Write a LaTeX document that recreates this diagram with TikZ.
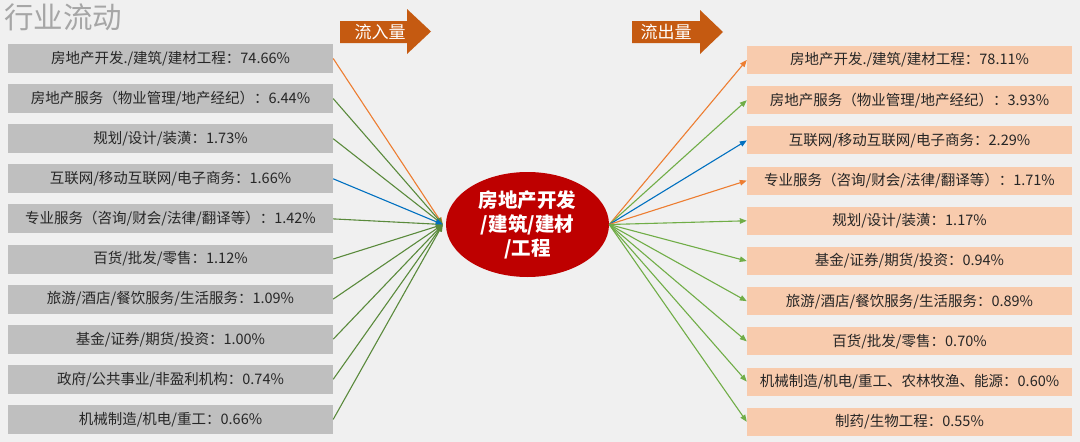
\documentclass[tikz,border=0pt]{standalone}
\usepackage{fontspec}
\setmainfont{Noto Sans CJK SC}
\usetikzlibrary{arrows.meta,shapes.geometric}
\definecolor{bg}{HTML}{F0F0F0}
\definecolor{lbox}{HTML}{BFBFBF}
\definecolor{rbox}{HTML}{F8CBAD}
\definecolor{darkred}{HTML}{BE0000}
\definecolor{arrorange}{HTML}{C55A11}
\definecolor{lorange}{HTML}{ED7D31}
\definecolor{lblue}{HTML}{0070C0}
\definecolor{lgreen}{HTML}{5A8A3C}
\definecolor{rgreen}{HTML}{70AD47}
\definecolor{titlegray}{HTML}{A6A6A6}
\tikzset{
  lboxst/.style={fill=lbox,draw=none,minimum width=325pt,minimum height=29pt,inner sep=0pt,font=\fontsize{14.5}{17}\selectfont,text=black!85},
  rboxst/.style={fill=rbox,draw=none,minimum width=325pt,minimum height=28pt,inner sep=0pt,font=\fontsize{14.5}{17}\selectfont,text=black!85},
  conn/.style={line width=1.1pt,-{Triangle[length=7pt,width=5.5pt]}},
}
\begin{document}
\begin{tikzpicture}[x=1pt,y=-1pt]
\fill[bg] (0,0) rectangle (1080,442);
\useasboundingbox (0,0) rectangle (1080,442);
% title
\node[anchor=west,text=titlegray,font=\fontsize{29.5}{32}\selectfont,inner sep=0pt] (title) at (4,17.5) {行业流动};
% block arrows
\fill[arrorange] (340,21) -- (407,21) -- (407,9) -- (431,31.5) -- (407,54) -- (407,43) -- (340,43) -- cycle;
\node[text=white,font=\fontsize{17}{20}\selectfont,inner sep=0pt] (inlab) at (380,32) {流入量};
\fill[arrorange] (632,21) -- (700,21) -- (700,10) -- (723,32) -- (700,54) -- (700,43) -- (632,43) -- cycle;
\node[text=white,font=\fontsize{17}{20}\selectfont,inner sep=0pt] (outlab) at (666,32) {流出量};
% center
\node[ellipse,fill=darkred,minimum width=163pt,minimum height=105pt,inner sep=0pt,text=white,font=\fontsize{19.5}{24}\selectfont\bfseries,align=center] (C) at (527.5,224.5) {房地产开发\\/建筑/建材\\/工程};
\coordinate (Cin) at ([xshift=-3pt]C.west);
% left boxes
\foreach \i/\t in {1/{房地产开发./建筑/建材工程：74.66\%},
                   2/{房地产服务（物业管理/地产经纪）：6.44\%},
                   3/{规划/设计/装潢：1.73\%},
                   4/{互联网/移动互联网/电子商务：1.66\%},
                   5/{专业服务（咨询/财会/法律/翻译等）：1.42\%},
                   6/{百货/批发/零售：1.12\%},
                   7/{旅游/酒店/餐饮服务/生活服务：1.09\%},
                   8/{基金/证券/期货/投资：1.00\%},
                   9/{政府/公共事业/非盈利机构：0.74\%},
                   10/{机械制造/机电/重工：0.66\%}}
  \node[lboxst] (L\i) at (170.5,{58.5+(\i-1)*40.1}) {\t};
% right boxes
\foreach \i/\t in {1/{房地产开发./建筑/建材工程：78.11\%},
                   2/{房地产服务（物业管理/地产经纪）：3.93\%},
                   3/{互联网/移动互联网/电子商务：2.29\%},
                   4/{专业服务（咨询/财会/法律/翻译等）：1.71\%},
                   5/{规划/设计/装潢：1.17\%},
                   6/{基金/证券/期货/投资：0.94\%},
                   7/{旅游/酒店/餐饮服务/生活服务：0.89\%},
                   8/{百货/批发/零售：0.70\%},
                   9/{机械制造/机电/重工、农林牧渔、能源：0.60\%},
                   10/{制药/生物工程：0.55\%}}
  \node[rboxst] (R\i) at (909.5,{60+(\i-1)*40.2}) {\t};
% left connectors
\draw[conn,lorange] (L1.east) -- (Cin);
\foreach \i in {2,3,5,6,7,8,9,10} \draw[conn,lgreen] (L\i.east) -- (Cin);
\draw[conn,lblue] (L4.east) -- (Cin);
% right connectors
\draw[conn,lorange] (C.east) -- (R1.west);
\draw[conn,rgreen] (C.east) -- (R2.west);
\draw[conn,lblue] (C.east) -- (R3.west);
\draw[conn,lorange] (C.east) -- (R4.west);
\foreach \i in {5,6,7,8,9,10} \draw[conn,rgreen] (C.east) -- (R\i.west);
\end{tikzpicture}
\end{document}
